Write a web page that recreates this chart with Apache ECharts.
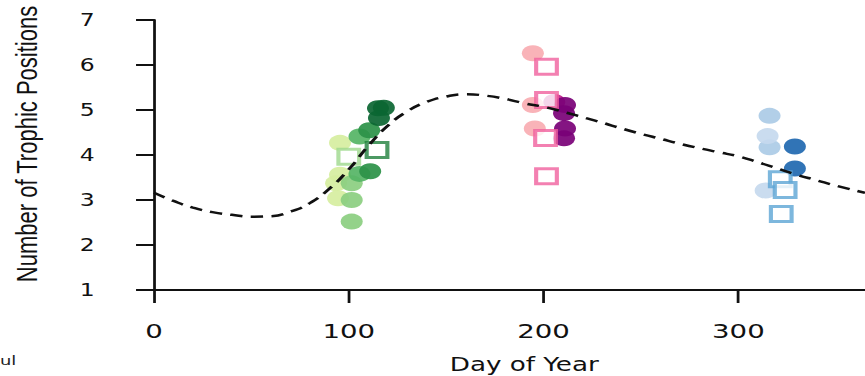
<!DOCTYPE html>
<html>
<head>
<meta charset="utf-8">
<script src="https://cdn.jsdelivr.net/npm/echarts@6/dist/echarts.min.js"></script>
<style>
  html, body { margin: 0; padding: 0; background: #fff; overflow: hidden; }
  /* the figure is laid out narrow and widened to the page width */
  #chart { width: 627px; height: 376px; transform: scaleX(1.3796); transform-origin: 0 0; }
</style>
</head>
<body>
<div id="chart"></div>
<script>
// Day-of-year axis ticks and trophic-position ticks
const xTicks = [0, 100, 200, 300];
const yTicks = [1, 2, 3, 4, 5, 6, 7];

// Spring sampling (greens), [day, trophic positions]
const springPale   = [[95.5, 4.27], [95.5, 3.56], [93.5, 3.37], [94.5, 3.04]];
const springMid    = [[101.5, 3.37], [101.5, 3.0], [101.5, 2.52]];
const springDeep   = [[105.5, 4.41], [105.5, 3.58]];
const springDark   = [[110.5, 4.55], [111, 3.64]];
const springDarkest = [[115, 5.04], [118, 5.05], [115.5, 4.82]];
const springBoxPale = [[100, 3.96]];
const springBoxDark = [[114.5, 4.11]];

// Summer sampling (pinks / purples)
const summerPale    = [[194.5, 6.26], [194.5, 5.11], [195.5, 4.59]];
const summerBoxes   = [[201.5, 5.96], [201.5, 5.22], [201, 4.38], [201.5, 3.53]];
const summerMagenta = [[205.5, 5.18]];
const summerPurple  = [[211, 5.11], [210.5, 4.93], [211, 4.59], [210.5, 4.37]];

// Autumn sampling (blues)
const autumnSoft  = [[316, 4.87], [316, 4.17]];
const autumnPale  = [[315, 4.42], [314, 3.21]];
const autumnDark  = [[329, 4.19], [329, 3.7]];
const autumnBoxes = [[321.5, 3.46], [324, 3.22], [322, 2.69]];

// Seasonal fit (dashed curve)
const fitDays = [0, 10, 20, 30, 40, 50, 60, 70, 80, 90, 100, 110, 120, 130, 140, 150, 160, 170, 180,
                 190, 200, 210, 220, 230, 240, 250, 260, 270, 280, 290, 300, 310, 320, 330, 340, 350, 365];
const fitValues = [3.16, 2.98, 2.83, 2.73, 2.67, 2.63, 2.64, 2.74, 2.93, 3.25, 3.68, 4.2, 4.65, 4.97, 5.18, 5.3, 5.35, 5.32, 5.25,
                   5.15, 5.07, 4.96, 4.84, 4.72, 4.59, 4.47, 4.36, 4.25, 4.15, 4.06, 3.97, 3.84, 3.7, 3.56, 3.44, 3.32, 3.16];

function dots(data, color) {
  return {
    type: 'scatter', data: data, symbol: 'circle', symbolSize: 16,
    itemStyle: { color: color, opacity: 0.92 }, z: 2, silent: true
  };
}
function boxes(data, color) {
  return {
    type: 'scatter', data: data, symbol: 'rect', symbolSize: 15,
    itemStyle: { color: '#ffffff', borderColor: color, borderWidth: 3 }, z: 3, silent: true
  };
}

const chart = echarts.init(document.getElementById('chart'), null, { renderer: 'svg' });
chart.setOption({
  backgroundColor: '#ffffff',
  animation: false,
  grid: { left: 111.6, right: 0, top: 20, bottom: 86 },
  xAxis: {
    type: 'value', min: 0, max: 365,
    axisLine: { lineStyle: { color: '#111', width: 2 } },
    axisTick: { show: true, length: 13, lineStyle: { color: '#111', width: 2 }, customValues: xTicks },
    axisLabel: { customValues: xTicks, margin: 31, color: '#111', fontSize: 20, fontFamily: 'DejaVu Sans' },
    splitLine: { show: false }
  },
  yAxis: {
    type: 'value', min: 1, max: 7, interval: 1,
    axisLine: { show: true, lineStyle: { color: '#111', width: 2 } },
    axisTick: { show: true, length: 13, lineStyle: { color: '#111', width: 2 }, customValues: yTicks },
    axisLabel: { customValues: yTicks, margin: 43, color: '#111', fontSize: 17, fontFamily: 'DejaVu Sans' },
    splitLine: { show: false }
  },
  graphic: [
    {
      type: 'text', x: 19, y: 144, rotation: Math.PI / 2,
      style: { text: 'Number of Trophic Positions', fill: '#111', fontSize: 22,
               fontFamily: 'Liberation Sans', align: 'center', verticalAlign: 'middle' }
    },
    {
      type: 'text', x: 380, y: 364,
      style: { text: 'Day of Year', fill: '#111', fontSize: 19,
               fontFamily: 'DejaVu Sans', align: 'center', verticalAlign: 'middle' }
    },
    {
      type: 'text', x: 0, y: 360,
      style: { text: 'ul', fill: '#222', fontSize: 13,
               fontFamily: 'DejaVu Sans', align: 'left', verticalAlign: 'middle' }
    }
  ],
  series: [
    dots(springPale, '#d6eea0'),
    dots(springMid, '#8bce80'),
    dots(springDeep, '#55b465'),
    dots(springDark, '#2b9148'),
    dots(springDarkest, '#0b6632'),
    boxes(springBoxPale, '#9ed88c'),
    boxes(springBoxDark, '#1f803c'),
    dots(summerPale, '#f8adb2'),
    dots(summerMagenta, '#c1238c'),
    dots(summerPurple, '#7a0177'),
    boxes(summerBoxes, '#f0609e'),
    dots(autumnSoft, '#abcbe6'),
    dots(autumnPale, '#c5d9ee'),
    dots(autumnDark, '#1f68b0'),
    boxes(autumnBoxes, '#5ca5d4'),
    {
      type: 'line', data: fitDays.map((d, i) => [d, fitValues[i]]),
      smooth: true, showSymbol: false, symbol: 'none', z: 5, silent: true,
      lineStyle: { color: '#111', width: 2.5, type: [9, 6] }
    }
  ]
});
</script>
</body>
</html>
